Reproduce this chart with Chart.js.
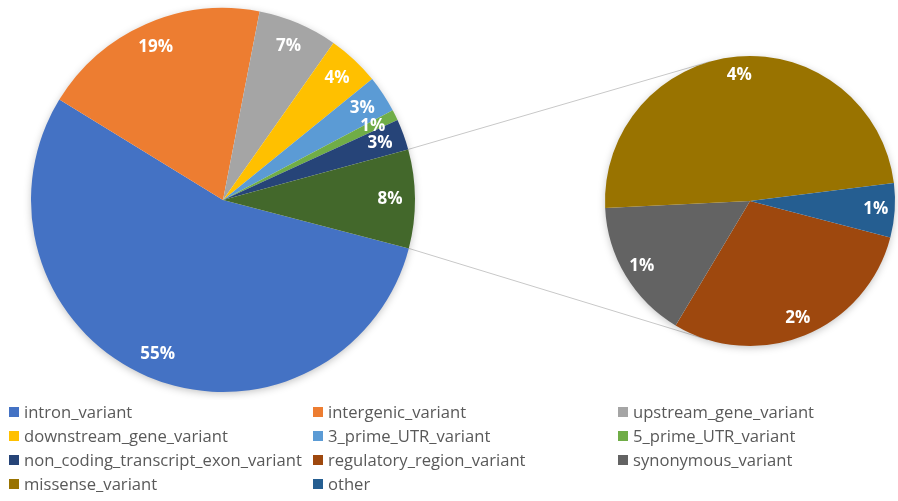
<!DOCTYPE html>
<html>
<head>
<meta charset="utf-8">
<script src="https://cdn.jsdelivr.net/npm/chart.js@4.4.1/dist/chart.umd.min.js"></script>
<style>
  html, body { margin: 0; padding: 0; background: #fff; }
  #wrap { position: relative; width: 898px; height: 501px; overflow: hidden; font-family: "Open Sans", sans-serif; }
  canvas { position: absolute; }
  #lines { left: 0; top: 0; z-index: 0; }
  #leftPie { left: 0; top: 0; z-index: 1; }
  #rightPie { left: 590px; top: 40px; z-index: 1; }
  .lg { position: absolute; font-size: 16.6px; color: #595959; white-space: nowrap; line-height: 20px; }
  .lg i { position: absolute; left: 0; top: 5px; width: 10px; height: 10px; }
  .lg span { position: absolute; left: 15px; top: 0; }
</style>
</head>
<body>
<div id="wrap">
  <canvas id="lines" width="898" height="501"></canvas>
  <canvas id="leftPie" width="446" height="400"></canvas>
  <canvas id="rightPie" width="308" height="330"></canvas>
  <div id="legend"></div>
</div>
<script>
// main pie
const leftLabels = ['intron_variant', 'intergenic_variant', 'upstream_gene_variant', 'downstream_gene_variant',
  '3_prime_UTR_variant', '5_prime_UTR_variant', 'non_coding_transcript_exon_variant'];
const leftValues = [54.7, 19.3, 6.7, 4.4, 3.1, 0.9, 2.6];
const leftColors = ['#4472C4', '#ED7D31', '#A5A5A5', '#FFC000', '#5B9BD5', '#70AD47', '#264478'];

// secondary pie (split out of the main one)
const rightLabels = ['regulatory_region_variant', 'synonymous_variant', 'missense_variant', 'other'];
const rightValues = [2.45, 1.3, 4.05, 0.5];
const rightColors = ['#9E480E', '#636363', '#997300', '#255E91'];

const splitColor = '#43682B';
const splitTotal = rightValues.reduce((s, v) => s + v, 0);

// legend order as in the picture (row by row, 3 columns)
const legendOrder = ['intron_variant', 'intergenic_variant', 'upstream_gene_variant',
  'downstream_gene_variant', '3_prime_UTR_variant', '5_prime_UTR_variant',
  'non_coding_transcript_exon_variant', 'regulatory_region_variant', 'synonymous_variant',
  'missense_variant', 'other'];

// shadow behind the pie + percentage labels inside the slices
const pieDecor = {
    id: 'pieDecor',
    beforeDatasetsDraw(chart) {
        const arc = chart.getDatasetMeta(0).data[0];
        if (!arc) return;
        const ctx = chart.ctx;
        ctx.save();
        ctx.shadowColor = 'rgba(0,0,0,0.28)';
        ctx.shadowBlur = 9;
        ctx.shadowOffsetY = 2;
        ctx.beginPath();
        ctx.arc(arc.x, arc.y, arc.outerRadius - 1, 0, Math.PI * 2);
        ctx.fillStyle = '#fff';
        ctx.fill();
        ctx.restore();
    },
    afterDatasetsDraw(chart) {
        const ctx = chart.ctx;
        const values = chart.data.datasets[0].data;
        ctx.save();
        ctx.font = 'bold 17px "Open Sans"';
        ctx.fillStyle = '#fff';
        ctx.textAlign = 'center';
        ctx.textBaseline = 'middle';
        chart.getDatasetMeta(0).data.forEach((arc, i) => {
            const mid = (arc.startAngle + arc.endAngle) / 2;
            const r = arc.outerRadius * 0.87;
            ctx.fillText(Math.round(values[i]) + '%', arc.x + Math.cos(mid) * r, arc.y + Math.sin(mid) * r);
        });
        ctx.restore();
    }
};

function pieOptions(pad) {
    return {
        responsive: false,
        animation: false,
        events: [],
        rotation: 104.6,
        layout: { padding: pad },
        plugins: { legend: { display: false }, tooltip: { enabled: false } }
    };
}

const leftChart = new Chart(document.getElementById('leftPie'), {
    type: 'pie',
    data: {
        labels: [...leftLabels, 'Other'],
        datasets: [{
            data: [...leftValues, splitTotal],
            backgroundColor: [...leftColors, splitColor],
            borderWidth: 0
        }]
    },
    options: pieOptions({ left: 31, top: 8, right: 31, bottom: 8 }),
    plugins: [pieDecor]
});

const rightChart = new Chart(document.getElementById('rightPie'), {
    type: 'pie',
    data: {
        labels: rightLabels,
        datasets: [{
            data: rightValues,
            backgroundColor: rightColors,
            borderWidth: 0
        }]
    },
    options: pieOptions({ left: 15, top: 16, right: 3, bottom: 24 }),
    plugins: [pieDecor]
});

// --- connector lines: from the split slice edges, tangent to the second pie ---
function drawConnectors() {
    const lc = document.getElementById('lines');
    const ctx = lc.getContext('2d');
    const leftArcs = leftChart.getDatasetMeta(0).data;
    const split = leftArcs[leftArcs.length - 1];
    const rArc = rightChart.getDatasetMeta(0).data[0];
    const cx = rArc.x + 590, cy = rArc.y + 40, r = rArc.outerRadius;

    const edge = (ang) => ({
        x: split.x + Math.cos(ang) * split.outerRadius,
        y: split.y + Math.sin(ang) * split.outerRadius
    });
    const tangent = (p, sign) => {
        const d = Math.hypot(p.x - cx, p.y - cy);
        const base = Math.atan2(p.y - cy, p.x - cx);
        const a = base + sign * Math.acos(r / d);
        return { x: cx + Math.cos(a) * r, y: cy + Math.sin(a) * r };
    };

    const pTop = edge(split.startAngle);
    const pBot = edge(split.endAngle);
    const tTop = tangent(pTop, 1);
    const tBot = tangent(pBot, -1);

    ctx.strokeStyle = '#C8C8C8';
    ctx.lineWidth = 1;
    ctx.beginPath();
    ctx.moveTo(pTop.x, pTop.y);
    ctx.lineTo(tTop.x, tTop.y);
    ctx.moveTo(pBot.x, pBot.y);
    ctx.lineTo(tBot.x, tBot.y);
    ctx.stroke();
}
drawConnectors();

// --- legend ---
const colorOf = {};
leftLabels.forEach((l, i) => colorOf[l] = leftColors[i]);
rightLabels.forEach((l, i) => colorOf[l] = rightColors[i]);
const colX = [9, 313, 618];
const rowY = [402, 426, 450, 474];
const legendEl = document.getElementById('legend');
legendOrder.forEach((name, i) => {
    const div = document.createElement('div');
    div.className = 'lg';
    div.style.left = colX[i % 3] + 'px';
    div.style.top = rowY[Math.floor(i / 3)] + 'px';
    div.innerHTML = `<i style="background:${colorOf[name]}"></i><span>${name}</span>`;
    legendEl.appendChild(div);
});
</script>
</body>
</html>
